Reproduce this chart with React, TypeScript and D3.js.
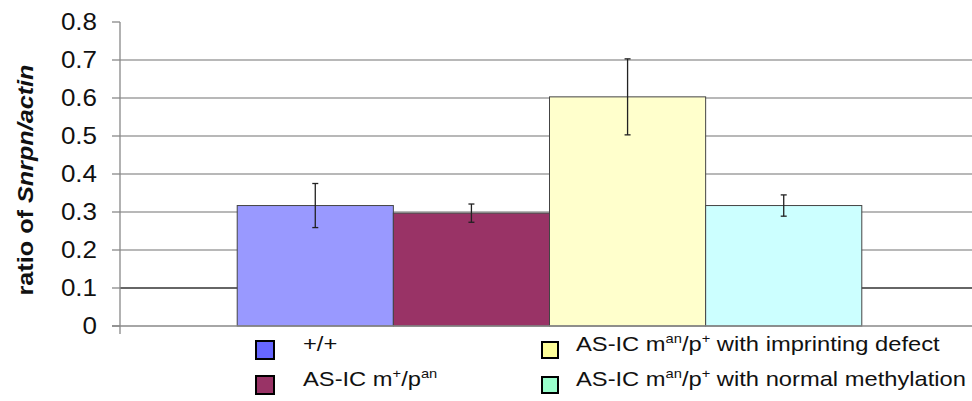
import React from "react";
import * as d3 from "d3";

const seriesNames = ["+/+", "AS-IC m+/pan", "AS-IC man/p+ imprinting", "AS-IC man/p+ normal"];
const values = [0.317, 0.297, 0.603, 0.317];
const errors = [0.058, 0.024, 0.1, 0.028];
const barColors = ["#9999FF", "#993366", "#FFFFCC", "#CCFFFF"];
const legendColors = ["#6666FF", "#993366", "#FFFF99", "#99FFCC"];
const yTicks = [0, 0.1, 0.2, 0.3, 0.4, 0.5, 0.6, 0.7, 0.8];

const W = 972;
const H = 401;
const left = 120;
const right = 979;
const top = 22;
const bottom = 326;

type Part = { t: string; sup?: boolean };
const legendLabels: Part[][] = [
  [{ t: "+/+" }],
  [{ t: "AS-IC m" }, { t: "+", sup: true }, { t: "/p" }, { t: "an", sup: true }],
  [{ t: "AS-IC m" }, { t: "an", sup: true }, { t: "/p" }, { t: "+", sup: true }, { t: " with imprinting defect" }],
  [{ t: "AS-IC m" }, { t: "an", sup: true }, { t: "/p" }, { t: "+", sup: true }, { t: " with normal methylation" }],
];
const legendPos = [
  { sx: 256, tx: 303, y: 350, s: 18 },
  { sx: 256, tx: 303, y: 385, s: 18 },
  { sx: 542, tx: 576, y: 350, s: 16 },
  { sx: 542, tx: 576, y: 385, s: 16 },
];

export default function App() {
  const y = d3.scaleLinear().domain([0, 0.8]).range([bottom, top]);
  const outer = d3.scaleBand<string>().domain(["g"]).range([left, right]).paddingInner(0.158).paddingOuter(0.158);
  const inner = d3.scaleBand<number>().domain(d3.range(values.length)).range([0, outer.bandwidth()]);
  const gx = outer("g") as number;
  const font = "'Liberation Sans', Arial, sans-serif";

  return (
    <svg width={W} height={H} style={{ position: "absolute", left: 0, top: 0, background: "#fff" }} fontFamily={font}>
      {/* gridlines */}
      {yTicks.filter((t) => t > 0 && t < 0.8).map((t) => (
        <line key={t} x1={left} x2={right} y1={y(t)} y2={y(t)} stroke={t === 0.1 ? "#333" : "#a0a0a0"} strokeWidth={1.3} />
      ))}
      {/* bars */}
      {values.map((v, i) => {
        const x0 = gx + (inner(i) as number);
        return (
          <rect key={i} x={x0} y={y(v)} width={inner.bandwidth()} height={y(0) - y(v)} fill={barColors[i]} stroke="#444" strokeWidth={1} />
        );
      })}
      {/* error bars */}
      {values.map((v, i) => {
        const cx = gx + (inner(i) as number) + inner.bandwidth() / 2;
        const y1 = y(v + errors[i]);
        const y2 = y(v - errors[i]);
        return (
          <g key={i} stroke="#222" strokeWidth={1.3}>
            <line x1={cx} x2={cx} y1={y1} y2={y2} />
            <line x1={cx - 3} x2={cx + 3} y1={y1} y2={y1} />
            <line x1={cx - 3} x2={cx + 3} y1={y2} y2={y2} />
          </g>
        );
      })}
      {/* baseline */}
      <line x1={left - 8} x2={right} y1={y(0)} y2={y(0)} stroke="#888" strokeWidth={1.3} />
      {/* y axis */}
      <line x1={left} x2={left} y1={y(0.8)} y2={y(0) + 8} stroke="#888" strokeWidth={1.3} />
      {yTicks.map((t) => (
        <g key={t}>
          <line x1={left - 8} x2={left} y1={y(t)} y2={y(t)} stroke="#888" strokeWidth={1.3} />
          <text transform={`translate(97, ${y(t)}) scale(1.13, 1)`} dy="0.36em" textAnchor="end" fontSize={23} fill="#111">
            {t === 0 ? "0" : d3.format(".1f")(t)}
          </text>
        </g>
      ))}
      {/* y axis title */}
      <text transform={`translate(33, ${(top + bottom) / 2 + 6}) rotate(-90) scale(1.12, 1)`} textAnchor="middle" fontSize={22.5} fontWeight="bold" fill="#111">
        ratio of <tspan fontStyle="italic">Snrpn/actin</tspan>
      </text>
      {/* legend */}
      {legendLabels.map((parts, i) => {
        const p = legendPos[i];
        return (
          <g key={i}>
            <rect x={p.sx} y={p.y - p.s / 2} width={p.s} height={p.s} fill={legendColors[i]} stroke="#000" strokeWidth={2} />
            <text transform={`translate(${p.tx}, ${p.y + 1}) scale(1.13, 1)`} dy="0.36em" fontSize={21} fill="#111">
              {parts.map((pt, j) =>
                pt.sup ? (
                  <tspan key={j} fontSize={13} dy={-8}>{pt.t}</tspan>
                ) : (
                  <tspan key={j} dy={j > 0 && parts[j - 1].sup ? 8 : 0}>{pt.t}</tspan>
                )
              )}
            </text>
          </g>
        );
      })}
    </svg>
  );
}
